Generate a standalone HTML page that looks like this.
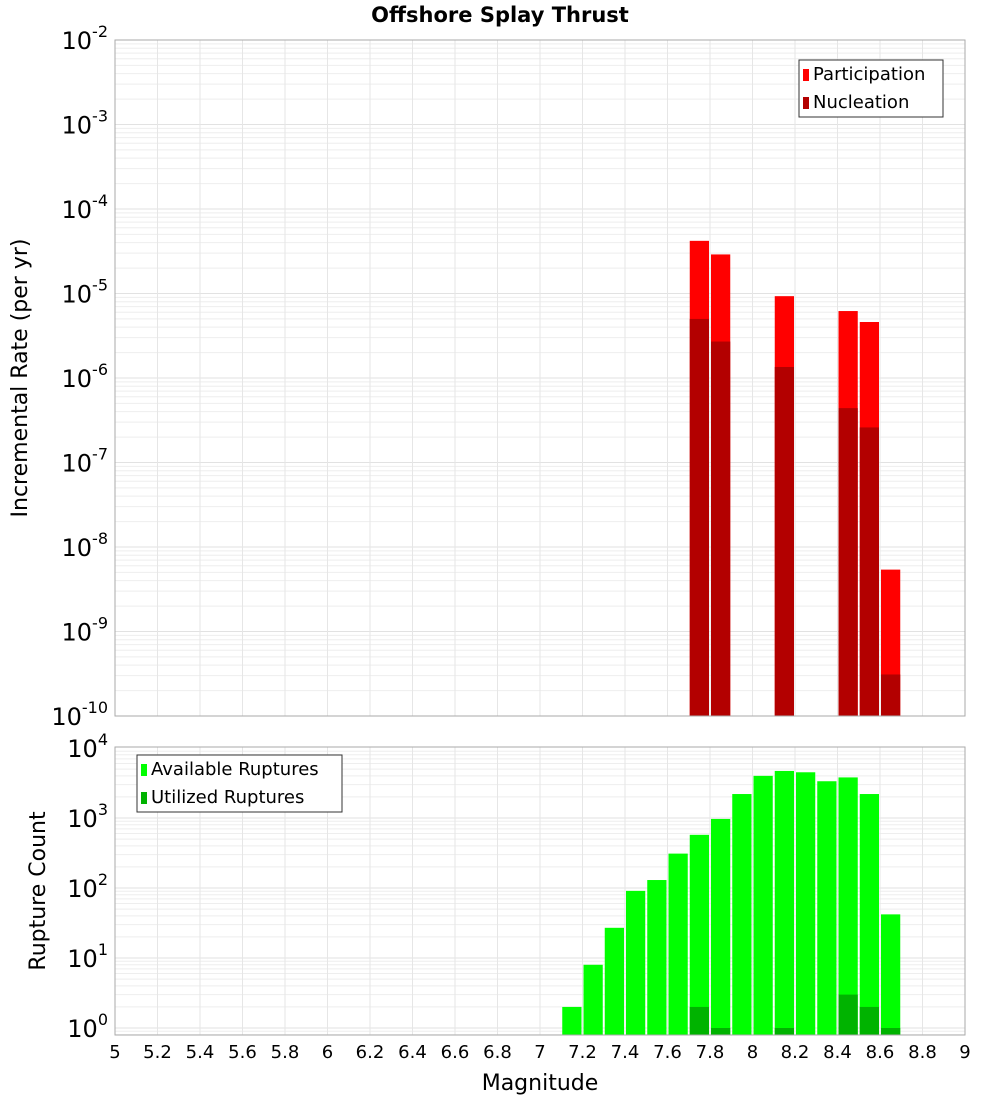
<!DOCTYPE html>
<html><head><meta charset="utf-8"><style>
body{margin:0;background:#fff;font-family:"Liberation Sans","DejaVu Sans",sans-serif}
svg text{font-family:"DejaVu Sans","Liberation Sans",sans-serif}
</style></head><body>
<svg id="c" width="1000" height="1100" xmlns="http://www.w3.org/2000/svg">
<text x="500" y="22" text-anchor="middle" font-size="21" font-weight="bold">Offshore Splay Thrust</text>
<text transform="translate(27,378) rotate(-90)" text-anchor="middle" font-size="22">Incremental Rate (per yr)</text>
<text transform="translate(45,891) rotate(-90)" text-anchor="middle" font-size="22">Rupture Count</text>
<text x="540" y="1090" text-anchor="middle" font-size="22">Magnitude</text>
<g id="g"></g>
</svg>
<script>
const mags=[7.75,7.85,8.15,8.45,8.55,8.65];
const participation=[4.2e-5,2.9e-5,9.3e-6,6.2e-6,4.6e-6,5.4e-9];
const nucleation=[5e-6,2.7e-6,1.35e-6,4.4e-7,2.6e-7,3.1e-10];
const countMags=[7.15,7.25,7.35,7.45,7.55,7.65,7.75,7.85,7.95,8.05,8.15,8.25,8.35,8.45,8.55,8.65];
const available=[2,8,27,91,130,310,575,970,2200,4000,4700,4500,3350,3800,2200,42];
const utilMags=[7.75,7.85,8.15,8.45,8.55,8.65];
const utilized=[2,1,1,3,2,1];
const xTicks=["5","5.2","5.4","5.6","5.8","6","6.2","6.4","6.6","6.8","7","7.2","7.4","7.6","7.8","8","8.2","8.4","8.6","8.8","9"];
const topExp=[-2,-3,-4,-5,-6,-7,-8,-9,-10];
const botExp=[4,3,2,1,0];

const NS="http://www.w3.org/2000/svg",G=document.getElementById('g');
function el(t,a,p){const e=document.createElementNS(NS,t);for(const k in a)e.setAttribute(k,a[k]);(p||G).appendChild(e);return e;}
const X0=115,X1=965;
const xs=m=>X0+(m-5)*(X1-X0)/4;
const yT=v=>40+(-2-Math.log10(v))*84.5;
const yB=v=>748+(4-Math.log10(v))*70;
const TB=[40,716],BB=[747,1035];

function grid(box,ys,lo,hi){
  for(let d=lo;d<=hi;d++)for(let k=1;k<10;k++){const y=ys(k*Math.pow(10,d));if(y<box[0]||y>box[1])continue;
    const l=el('line',{x1:X0,x2:X1,y1:y,y2:y,stroke:k==1?'#e2e2e2':'#eeeeee','stroke-width':1});
    }
  for(let i=0;i<=20;i++){const x=xs(5+i*0.2);
    const l=el('line',{x1:x,x2:x,y1:box[0],y2:box[1],stroke:'#e6e6e6'});
    }
}
grid(TB,yT,-10,-3);grid(BB,yB,-1,3);

function bar(m,v,ys,base,fill,name){const x=xs(m-0.05)+1,w=xs(m+0.05)-xs(m-0.05)-2,y=ys(v);
  const r=el('rect',{x:x,y:y,width:w,height:base-y,fill:fill});
  }
mags.forEach((m,i)=>bar(m,participation[i],yT,716,'#ff0000','participation-bar'));
mags.forEach((m,i)=>bar(m,nucleation[i],yT,716,'#b30000','nucleation-bar'));
countMags.forEach((m,i)=>bar(m,available[i],yB,1035,'#00ff00','available-bar'));
utilMags.forEach((m,i)=>bar(m,utilized[i],yB,1035,'#00b300','utilized-bar'));

[TB,BB].forEach((b,j)=>{const r=el('rect',{x:X0,y:b[0],width:X1-X0,height:b[1]-b[0],fill:'none',stroke:'#aaaaaa'});
  });

function ylab(e,y,name){const t=el('text',{x:108,y:y,'text-anchor':'end','font-size':24});
  
  t.textContent='10';const s=el('tspan',{dy:-12,'font-size':16},t);s.textContent=e;}
topExp.forEach(e=>{const y=yT(Math.pow(10,e));ylab(e,y+9,'top-y-tick-label');});
botExp.forEach(e=>{const y=yB(Math.pow(10,e));ylab(e,Math.min(y+9,1037),'bottom-y-tick-label');});
xTicks.forEach(s=>{const t=el('text',{x:xs(parseFloat(s)),y:1058,'text-anchor':'middle','font-size':18});
  t.textContent=s;});

function legend(x,y,w,items,name){const g=el('g',{});
  el('rect',{x:x,y:y,width:w,height:57,fill:'#fff',stroke:'#333'},g);
  items.forEach((it,i)=>{el('rect',{x:x+4,y:y+9+i*28,width:6,height:12,fill:it[1]},g);
    const t=el('text',{x:x+14,y:y+20+i*28,'font-size':18},g);t.textContent=it[0];});}
legend(799,60,144,[['Participation','#ff0000'],['Nucleation','#b30000']],'top-legend');
legend(137,755,205,[['Available Ruptures','#00ff00'],['Utilized Ruptures','#00b300']],'bottom-legend');
</script>
</body></html>
